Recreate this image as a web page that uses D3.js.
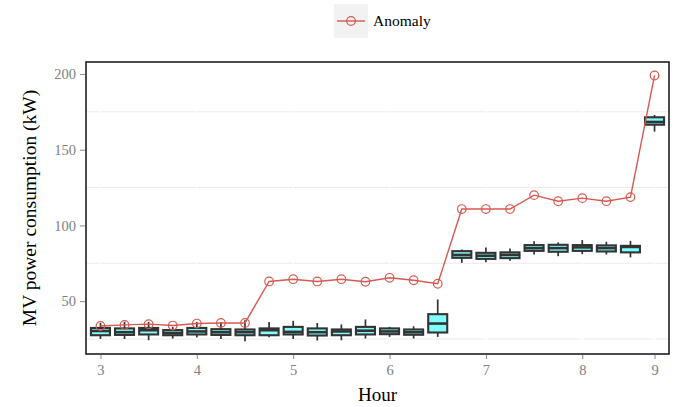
<!DOCTYPE html>
<html>
<head>
<meta charset="utf-8">
<script src="https://cdn.jsdelivr.net/npm/d3@7"></script>
<style>
  html, body { margin: 0; padding: 0; background: #fff; }
  svg { display: block; font-family: "Liberation Serif", "Times New Roman", serif; }
</style>
</head>
<body>
<svg id="chart" width="676" height="407"></svg>
<script>
// Quarter-hour slots shown on the x axis
const slots = ["3:00","3:15","3:30","3:45","4:00","4:15","4:30","4:45",
               "5:00","5:15","5:30","5:45","6:00","6:15","6:30","6:45",
               "7:00","7:15","7:30","7:45","8:00","8:15","8:30","9:00"];

// Box statistics per slot (kW)
const whiskerLow  = [25.0,25.0,24.2,25.3,26.0,25.0,23.5,26.2,25.0,24.0,24.2,25.3,26.4,25.3,26.4,
                     75.3,75.6,76.6,80.8,79.7,81.0,80.8,78.9,161.9];
const q1          = [27.5,27.7,28.0,27.5,28.0,27.7,27.5,27.5,28.0,27.3,27.5,28.0,28.2,27.8,29.3,
                     78.6,77.9,78.4,83.2,82.6,83.2,82.8,82.2,166.5];
const median      = [30.3,29.5,30.8,29.0,30.0,29.5,29.5,30.8,29.7,29.5,30.0,30.5,30.0,29.5,35.2,
                     80.5,80.0,80.5,85.0,85.0,85.5,85.0,85.8,168.3];
const q3          = [32.3,32.0,32.3,30.9,32.3,31.5,31.3,32.0,33.0,32.0,31.3,33.0,32.0,31.3,41.4,
                     83.0,81.9,82.2,87.0,87.2,87.0,86.8,86.5,171.4];
const whiskerHigh = [35.6,36.3,36.3,33.0,36.3,36.3,37.4,36.3,37.0,35.6,34.6,37.9,33.0,33.4,51.1,
                     84.1,85.5,84.8,89.6,88.8,90.3,89.2,89.8,172.9];

// Anomalous day profile (kW)
const anomaly = [33.6,34.3,34.8,33.9,35.2,35.6,35.6,63.0,64.5,63.0,64.5,62.8,65.4,63.8,61.5,
                 110.8,110.8,110.8,120.0,116.0,118.0,116.0,118.7,199.0];

// Axis ticks
const xTickSlots  = ["3:00","4:00","5:00","6:00","7:00","8:00","9:00"];
const xTickLabels = ["3","4","5","6","7","8","9"];
const yMajor = [50, 100, 150, 200];
const yMinor = [25, 75, 125, 175];

const seriesName = "Anomaly";
const lineColor = "#d65a50";
const boxFill = "#80ffff";
const boxInk = "#333333";

const svg = d3.select("#chart");
const panel = { left: 86, right: 669, top: 62, bottom: 354 };

const x = d3.scalePoint().domain(slots).range([panel.left, panel.right]).padding(0.6);
const y = d3.scaleLinear().domain([15.1, 207.9]).range([panel.bottom, panel.top]);

const boxes = slots.map((s, i) => ({
  slot: s, lo: whiskerLow[i], q1: q1[i], med: median[i], q3: q3[i], hi: whiskerHigh[i]
}));
const anomalyPts = slots.map((s, i) => ({ slot: s, v: anomaly[i] }));

// Grid: light minor lines, white major lines
const grid = svg.append("g");
grid.selectAll("line.minor").data(yMinor).join("line")
  .attr("x1", panel.left).attr("x2", panel.right)
  .attr("y1", d => y(d)).attr("y2", d => y(d))
  .attr("stroke", "#ebebeb").attr("stroke-width", 1);
grid.selectAll("line.vmajor").data(xTickSlots).join("line")
  .attr("x1", d => x(d)).attr("x2", d => x(d))
  .attr("y1", panel.top).attr("y2", panel.bottom)
  .attr("stroke", "#ffffff").attr("stroke-width", 1.5);

// Box plots
const bw = 19;
const bx = svg.append("g");
const g = bx.selectAll("g").data(boxes).join("g");
g.append("line")
  .attr("x1", d => x(d.slot)).attr("x2", d => x(d.slot))
  .attr("y1", d => y(d.lo)).attr("y2", d => y(d.hi))
  .attr("stroke", boxInk).attr("stroke-width", 1.7);
g.append("rect")
  .attr("x", d => x(d.slot) - bw / 2).attr("width", bw)
  .attr("y", d => y(d.q3)).attr("height", d => y(d.q1) - y(d.q3))
  .attr("fill", boxFill).attr("stroke", boxInk).attr("stroke-width", 2.1);
g.append("line")
  .attr("x1", d => x(d.slot) - bw / 2).attr("x2", d => x(d.slot) + bw / 2)
  .attr("y1", d => y(d.med)).attr("y2", d => y(d.med))
  .attr("stroke", boxInk).attr("stroke-width", 2.6);

// Anomaly line with open circles
const line = d3.line().x(d => x(d.slot)).y(d => y(d.v));
svg.append("path").datum(anomalyPts)
  .attr("d", line).attr("fill", "none")
  .attr("stroke", lineColor).attr("stroke-width", 1.4);
svg.append("g").selectAll("circle").data(anomalyPts).join("circle")
  .attr("cx", d => x(d.slot)).attr("cy", d => y(d.v)).attr("r", 4.3)
  .attr("fill", "none").attr("stroke", lineColor).attr("stroke-width", 1.2);

// Panel border
svg.append("rect")
  .attr("x", panel.left).attr("y", panel.top)
  .attr("width", panel.right - panel.left).attr("height", panel.bottom - panel.top)
  .attr("fill", "none").attr("stroke", "#111").attr("stroke-width", 1.5);

// Axes
const xAxis = d3.axisBottom(x).tickValues(xTickSlots)
  .tickFormat(d => xTickLabels[xTickSlots.indexOf(d)]).tickSize(4).tickPadding(6);
const gx = svg.append("g").attr("transform", `translate(0,${panel.bottom + 1})`).call(xAxis);
const yAxis = d3.axisLeft(y).tickValues(yMajor).tickSize(5).tickPadding(4);
const gy = svg.append("g").attr("transform", `translate(${panel.left - 1},0)`).call(yAxis);
[gx, gy].forEach(a => {
  a.select(".domain").remove();
  a.selectAll(".tick line").attr("stroke", "#888").attr("stroke-width", 1);
  a.selectAll(".tick text").attr("fill", "#808080")
    .style("font-family", "Liberation Serif, serif").style("font-size", "14.5px");
});

// Axis titles
svg.append("text")
  .attr("x", (panel.left + panel.right) / 2).attr("y", 401)
  .attr("text-anchor", "middle").style("font-size", "19px").attr("fill", "#000")
  .text("Hour");
svg.append("text")
  .attr("transform", `translate(36,${(panel.top + panel.bottom) / 2}) rotate(-90)`)
  .attr("text-anchor", "middle").style("font-size", "19.5px").attr("fill", "#000")
  .text("MV power consumption (kW)");

// Legend
const lg = svg.append("g").attr("transform", "translate(334,4)");
lg.append("rect").attr("width", 34).attr("height", 34).attr("fill", "#f2f2f2");
lg.append("line").attr("x1", 3).attr("x2", 31).attr("y1", 17).attr("y2", 17)
  .attr("stroke", lineColor).attr("stroke-width", 1.4);
lg.append("circle").attr("cx", 17).attr("cy", 17).attr("r", 4.3)
  .attr("fill", "none").attr("stroke", lineColor).attr("stroke-width", 1.2);
lg.append("text").attr("x", 39).attr("y", 22).style("font-size", "15.5px").attr("fill", "#000")
  .text(seriesName);
</script>
</body>
</html>
